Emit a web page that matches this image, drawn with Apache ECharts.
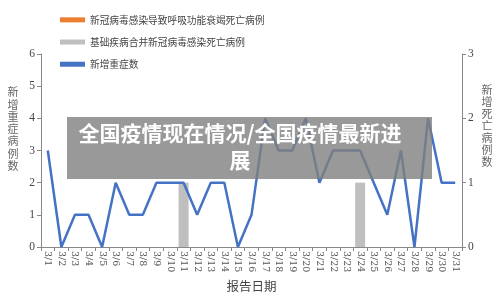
<!DOCTYPE html>
<html><head><meta charset="utf-8">
<script src="https://cdn.jsdelivr.net/npm/echarts@6/dist/echarts.min.js"></script>
<style>html,body{margin:0;padding:0;background:#fff}#c{width:500px;height:297px}</style>
</head><body><div id="c"></div>
<script>
const categories = ['3/1','3/2','3/3','3/4','3/5','3/6','3/7','3/8','3/9','3/10','3/11','3/12','3/13','3/14','3/15','3/16','3/17','3/18','3/19','3/20','3/21','3/22','3/23','3/24','3/25','3/26','3/27','3/28','3/29','3/30','3/31'];
const respiratoryDeaths = [0,0,0,0,0,0,0,0,0,0,0,0,0,0,0,0,0,0,0,0,0,0,0,0,0,0,0,0,0,0,0];
const comorbidDeaths = [0,0,0,0,0,0,0,0,0,0,1,0,0,0,0,0,0,0,0,0,0,0,0,1,0,0,0,0,0,0,0];
const newSevere = [3,0,1,1,0,2,1,1,2,2,2,1,2,2,0,1,4,3,3,4,2,3,3,3,2,1,3,0,4,2,2];
const leftTicks = [0,6,1];
const rightTicks = [0,3,1];
const seriesNames = ['新冠病毒感染导致呼吸功能衰竭死亡病例','基础疾病合并新冠病毒感染死亡病例','新增重症数'];
const leftAxisName = '新增重症病例数';
const rightAxisName = '新增死亡病例数';
const titleText = '全国疫情现在情况/全国疫情最新进\n展';

const chart = echarts.init(document.getElementById('c'), null, {renderer:'canvas'});
const axisCol = '#888';
chart.setOption({
  animation:false,
  legend:{
    orient:'vertical', left:55, top:10, itemGap:12.5, itemWidth:25, itemHeight:5,
    textStyle:{fontSize:9.7, color:'#444', fontFamily:'Noto Sans CJK SC'},
    data:[{name:seriesNames[0], icon:'rect'},{name:seriesNames[1], icon:'rect'},{name:seriesNames[2], icon:'rect', itemStyle:{color:'#4472C4'}}]
  },
  grid:{left:41, right:38, top:54, bottom:50, outerBoundsMode:'none', containLabel:false},
  xAxis:{
    type:'category', data:categories, boundaryGap:true,
    name:'报告日期', nameLocation:'middle', nameGap:33,
    nameTextStyle:{fontSize:12.5, color:'#444', fontFamily:'Noto Sans CJK SC', align:'center', verticalAlign:'middle'},
    axisLine:{lineStyle:{color:axisCol}},
    axisTick:{show:true, alignWithLabel:false, length:4, lineStyle:{color:axisCol}},
    axisLabel:{rotate:-90, interval:0, fontSize:9.5, color:'#555', margin:4, fontFamily:'DejaVu Serif'}
  },
  yAxis:[{
    type:'value', min:leftTicks[0], max:leftTicks[1], interval:leftTicks[2],
    axisLine:{show:true, lineStyle:{color:axisCol}},
    axisTick:{show:true, length:4, lineStyle:{color:axisCol}},
    splitLine:{show:false},
    axisLabel:{fontSize:11.5, color:'#444', margin:6, fontFamily:'Liberation Serif'}
  },{
    type:'value', min:rightTicks[0], max:rightTicks[1], interval:rightTicks[2],
    axisLine:{show:true, lineStyle:{color:axisCol}},
    axisTick:{show:true, length:4, lineStyle:{color:axisCol}},
    splitLine:{show:false},
    axisLabel:{fontSize:11.5, color:'#444', margin:6, fontFamily:'Liberation Serif'}
  }],
  series:[
    {name:seriesNames[0], type:'bar', yAxisIndex:1, stack:'d', data:respiratoryDeaths, itemStyle:{color:'#ED7D31'}, barWidth:10},
    {name:seriesNames[1], type:'bar', yAxisIndex:1, stack:'d', data:comorbidDeaths, itemStyle:{color:'#BFBFBF'}, barWidth:10},
    {name:seriesNames[2], type:'line', yAxisIndex:0, data:newSevere, symbol:'none', lineStyle:{color:'#4472C4', width:2.5}, itemStyle:{color:'#4472C4'}}
  ],
  graphic:[
    {type:'text', x:13, y:129, style:{text:leftAxisName.split('').join('\n'), fill:'#666', font:'11px "Noto Sans CJK SC"', align:'center', verticalAlign:'middle', lineHeight:12.3}},
    {type:'text', x:487, y:126, style:{text:rightAxisName.split('').join('\n'), fill:'#666', font:'11px "Noto Sans CJK SC"', align:'center', verticalAlign:'middle', lineHeight:12}},
    {type:'rect', left:67, top:117, z:100, shape:{width:365, height:62}, style:{fill:'rgba(128,128,128,0.8)'}},
    {type:'text', x:240, y:120, z:101, style:{text:titleText, fill:'#fff', font:'bold 21px "Noto Sans CJK SC"', align:'center', verticalAlign:'top', lineHeight:27}}
  ]
});
</script></body></html>
